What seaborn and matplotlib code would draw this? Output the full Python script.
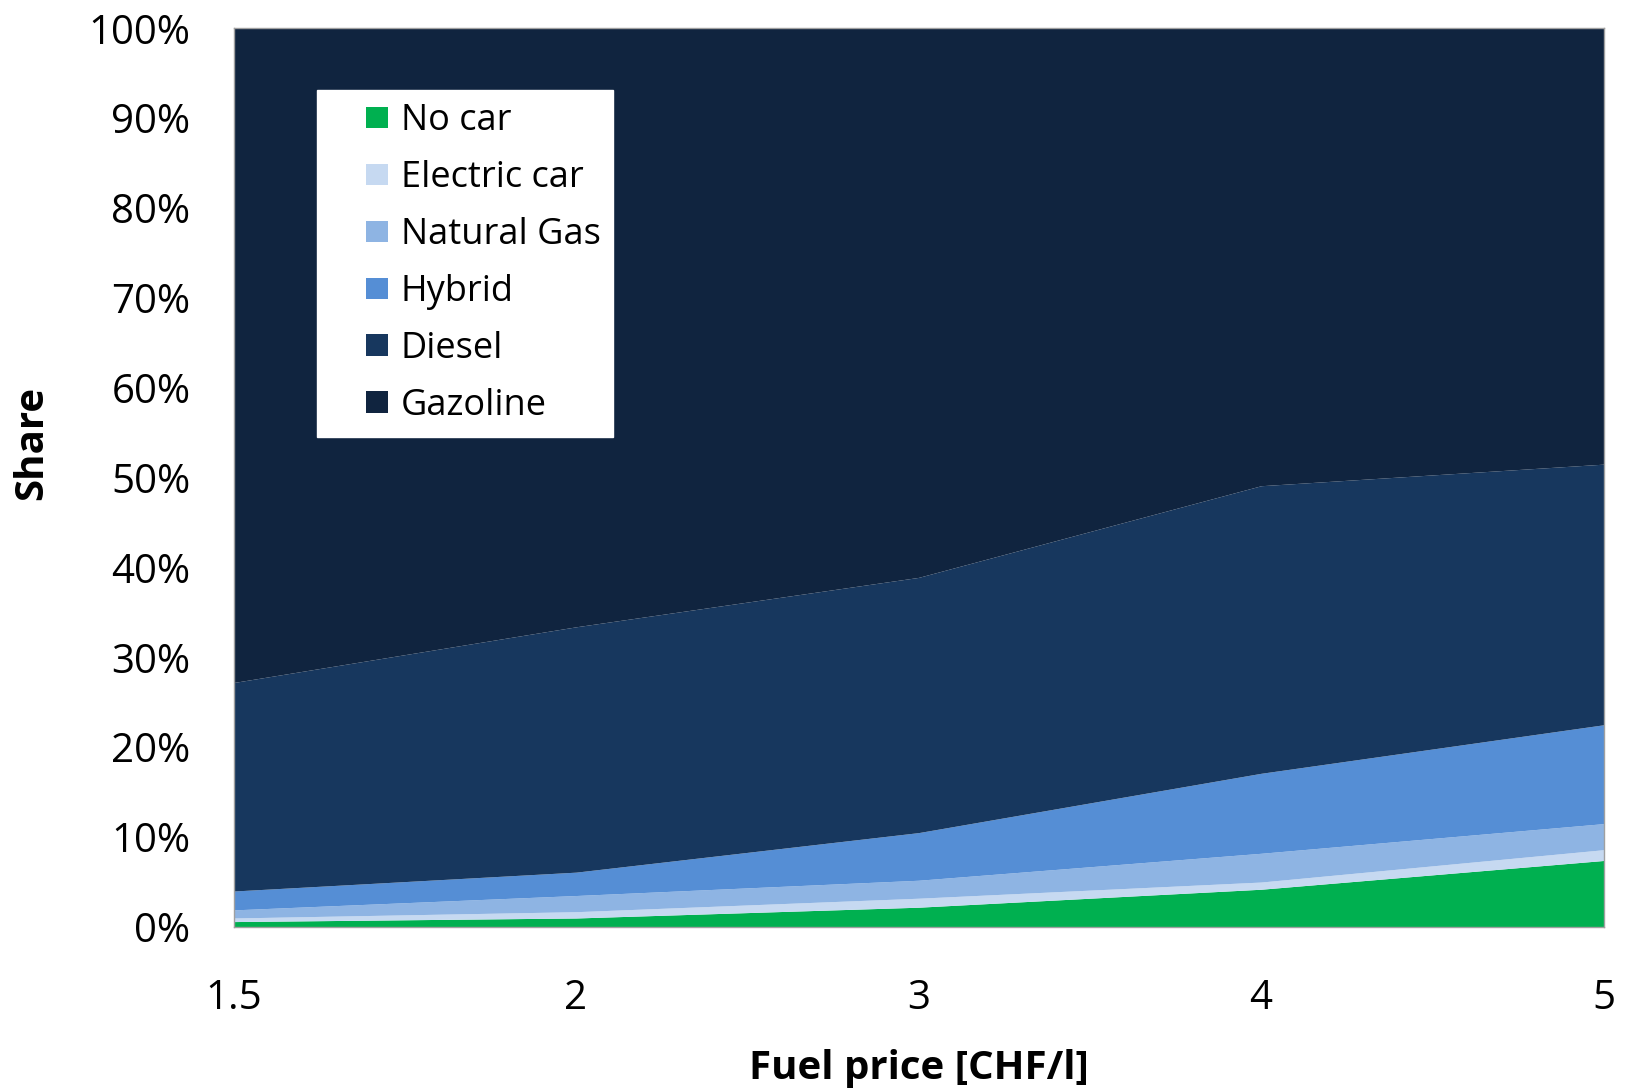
import numpy as np
import matplotlib
matplotlib.use("Agg")
import matplotlib.pyplot as plt
from matplotlib.patches import Patch, Rectangle
from matplotlib.legend_handler import HandlerPatch
from matplotlib.ticker import FuncFormatter
import seaborn as sns

# Dados (em %)
precos = ["1.5", "2", "3", "4", "5"]
sem_carro = [0.6, 1.0, 2.2, 4.2, 7.4]
eletrico = [0.4, 0.7, 1.0, 0.8, 1.2]
gas_natural = [0.9, 1.8, 2.0, 3.2, 2.9]
hibrido = [2.1, 2.6, 5.3, 8.9, 11.0]
diesel = [23.2, 27.3, 28.4, 32.0, 29.0]
gasolina = [72.8, 66.6, 61.1, 50.9, 48.5]

nomes = ["No car", "Electric car", "Natural Gas", "Hybrid", "Diesel", "Gazoline"]
cores = ["#00B050", "#C6D9F1", "#8EB4E3", "#558ED5", "#17375E", "#10243F"]

sns.set_theme(style="white")
plt.rcParams['font.family'] = ['Open Sans', 'DejaVu Sans']
plt.rcParams['text.color'] = 'black'
plt.rcParams['axes.labelcolor'] = 'black'
plt.rcParams['xtick.color'] = 'black'
plt.rcParams['ytick.color'] = 'black'

fig = plt.figure(figsize=(16.33, 10.88), dpi=100)
ax = fig.add_axes([0.143, 0.148, 0.839, 0.826])

x = np.arange(len(precos))
ax.stackplot(x, sem_carro, eletrico, gas_natural, hibrido, diesel, gasolina,
             colors=cores, linewidth=0)

ax.set_xlim(0, len(precos) - 1)
ax.set_ylim(0, 100)
ax.set_xticks(x)
ax.set_xticklabels(precos)
ax.set_yticks(np.arange(0, 101, 10))
ax.yaxis.set_major_formatter(FuncFormatter(lambda v, p: f"{int(v)}%"))
ax.tick_params(axis="both", labelsize=29, length=0)
ax.tick_params(axis="x", pad=37)
ax.tick_params(axis="y", pad=31)

for s in ax.spines.values():
    s.set_color("#A0A0A0")
    s.set_linewidth(1)

ax.set_xlabel("Fuel price [CHF/l]", fontsize=29, fontweight="bold", labelpad=22)
ax.set_ylabel("Share", fontsize=29, fontweight="bold", va="center")
ax.yaxis.set_label_coords(-0.147, 0.539)


# quadradinho pequeno encostado à direita do espaço do marcador
def quadrado(legend, orig_handle, xdescent, ydescent, width, height, fontsize):
    lado = height * 0.95
    return Rectangle((-xdescent + width - lado, -ydescent + (height - lado) / 2), lado, lado)


handles = [Patch(facecolor=c, edgecolor="none", label=n) for n, c in zip(nomes, cores)]
leg = ax.legend(handles=handles, loc="upper left", bbox_to_anchor=(0.061, 0.931),
                fontsize=26, frameon=True, fancybox=False, framealpha=1,
                handlelength=1.6, handleheight=0.6, handletextpad=0.35,
                labelspacing=0.58, borderpad=0.36, borderaxespad=0,
                handler_map={Patch: HandlerPatch(patch_func=quadrado)})
leg.get_frame().set_edgecolor("white")
leg.get_frame().set_facecolor("white")

fig.savefig("out.png", dpi=100)
